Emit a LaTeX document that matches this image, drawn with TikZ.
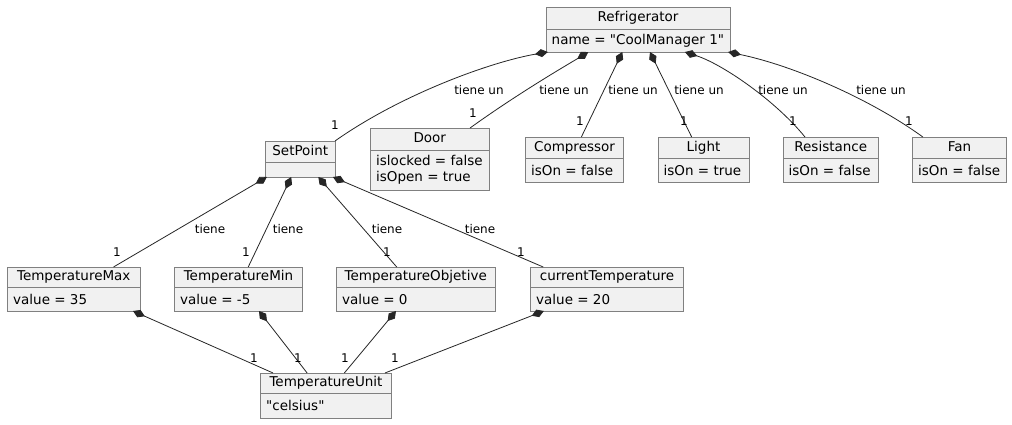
\documentclass[tikz,border=0pt]{standalone}
\usepackage{fontspec}
\setmainfont{DejaVu Sans}
\usetikzlibrary{arrows.meta,calc,fit}
\definecolor{boxfill}{RGB}{241,241,241}
\tikzset{
  classbox/.style={draw=black!50, fill=boxfill, line width=0.8pt, inner sep=0pt, outer sep=0pt},
  divline/.style={draw=black!50, line width=0.8pt},
  titletxt/.style={font=\fontsize{13.5}{16}\selectfont, inner sep=0pt, text height=10pt, text depth=3pt},
  attrtxt/.style={font=\fontsize{13.5}{16.5}\selectfont, inner sep=0pt, align=left, anchor=west},
  comp/.style={draw=black!85, line width=0.8pt, {Diamond[length=13pt,width=8pt]}-},
  lbl/.style={font=\fontsize{12}{14}\selectfont, inner sep=0pt, text height=9pt, text depth=2.5pt}
}
\newcommand\umlclass[8]{%
  \node[classbox, fit={(#2,#3) (#5,#6)}] (#1) {};
  \draw[divline] (#2,#4) -- (#5,#4);
  \node[titletxt] at ({(#2+#5)/2},{(#3+#4)/2}) {#7};
  \node[attrtxt] at ({#2+5.5},{(#4+#6)/2}) {#8};
}
\begin{document}
\begin{tikzpicture}[x=1pt,y=-1pt]
\useasboundingbox[fill=white] (0,0) rectangle (1012,424);
% classes
\umlclass{ref}{546}{7}{29}{730}{52}{Refrigerator}{name = \textquotedbl CoolManager 1\textquotedbl}
\umlclass{sp}{265.5}{141}{162}{335}{177}{SetPoint}{}
\umlclass{door}{370.5}{128}{150}{489}{190}{Door}{islocked = false\\isOpen = true}
\umlclass{comp}{525.5}{137}{158}{623.5}{182}{Compressor}{isOn = false}
\umlclass{light}{658}{137}{158}{749}{182}{Light}{isOn = true}
\umlclass{res}{783}{137}{158}{878.5}{182}{Resistance}{isOn = false}
\umlclass{fan}{912.5}{137}{158}{1006.5}{182}{Fan}{isOn = false}
\umlclass{tmax}{7.5}{267}{287}{140}{311}{TemperatureMax}{value = 35}
\umlclass{tmin}{174.5}{267}{287}{302.5}{311}{TemperatureMin}{value = -5}
\umlclass{tobj}{336.5}{267}{287}{495}{311}{TemperatureObjetive}{value = 0}
\umlclass{tcur}{530.5}{267}{287}{683.5}{311}{currentTemperature}{value = 20}
\umlclass{tunit}{260.5}{373}{393}{391.5}{418}{TemperatureUnit}{\textquotedbl celsius\textquotedbl}
% Refrigerator edges
\draw[comp] ($(ref.south west)!0.01!(ref.south east)$) .. controls (490,62) and (400,95) .. (sp.north east);
\draw[comp] ($(ref.south west)!0.23!(ref.south east)$) .. controls (572,62) and (520,92) .. ($(door.north west)!0.84!(door.north east)$);
\draw[comp] ($(ref.south west)!0.415!(ref.south east)$) -- ($(comp.north west)!0.57!(comp.north east)$);
\draw[comp] ($(ref.south west)!0.565!(ref.south east)$) -- ($(light.north west)!0.37!(light.north east)$);
\draw[comp] ($(ref.south west)!0.755!(ref.south east)$) .. controls (722,64) and (775,100) .. ($(res.north west)!0.23!(res.north east)$);
\draw[comp] ($(ref.south west)!0.99!(ref.south east)$) .. controls (795,66) and (872,100) .. ($(fan.north west)!0.11!(fan.north east)$);
\node[lbl] at (479,91) {tiene un};
\node[lbl] at (564,91) {tiene un};
\node[lbl] at (633,91) {tiene un};
\node[lbl] at (699,91) {tiene un};
\node[lbl] at (783,91) {tiene un};
\node[lbl] at (881,91) {tiene un};
\node[lbl] at (335,126) {1};
\node[lbl] at (473,114) {1};
\node[lbl] at (580,122) {1};
\node[lbl] at (684,122) {1};
\node[lbl] at (793,122) {1};
\node[lbl] at (909,122) {1};
% SetPoint edges
\draw[comp] ($(sp.south west)!0.02!(sp.south east)$) -- ($(tmax.north west)!0.80!(tmax.north east)$);
\draw[comp] ($(sp.south west)!0.37!(sp.south east)$) -- ($(tmin.north west)!0.576!(tmin.north east)$);
\draw[comp] ($(sp.south west)!0.76!(sp.south east)$) -- ($(tobj.north west)!0.38!(tobj.north east)$);
\draw[comp] ($(sp.south west)!0.97!(sp.south east)$) -- ($(tcur.north west)!0.083!(tcur.north east)$);
\node[lbl] at (210,230) {tiene};
\node[lbl] at (288,230) {tiene};
\node[lbl] at (387,230) {tiene};
\node[lbl] at (480,230) {tiene};
\node[lbl] at (117,253) {1};
\node[lbl] at (246,253) {1};
\node[lbl] at (387,253) {1};
\node[lbl] at (521,253) {1};
% TemperatureUnit edges
\draw[comp] ($(tmax.south west)!0.947!(tmax.south east)$) -- ($(tunit.north west)!0.096!(tunit.north east)$);
\draw[comp] ($(tmin.south west)!0.66!(tmin.south east)$) -- ($(tunit.north west)!0.356!(tunit.north east)$);
\draw[comp] ($(tobj.south west)!0.375!(tobj.south east)$) -- ($(tunit.north west)!0.64!(tunit.north east)$);
\draw[comp] ($(tcur.south west)!0.087!(tcur.south east)$) -- ($(tunit.north west)!0.95!(tunit.north east)$);
\node[lbl] at (254,359) {1};
\node[lbl] at (298,359) {1};
\node[lbl] at (345,359) {1};
\node[lbl] at (395,359) {1};
\end{tikzpicture}
\end{document}
